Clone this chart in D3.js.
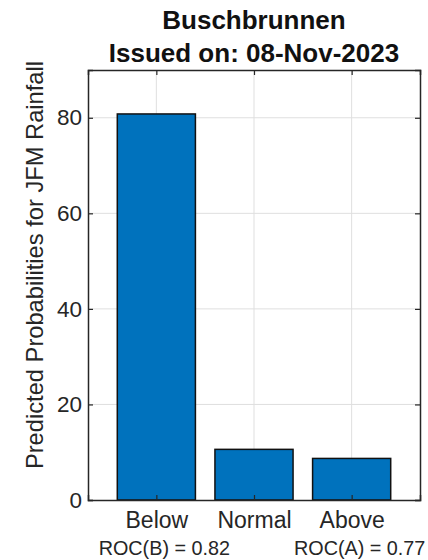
<!DOCTYPE html>
<html><head><meta charset="utf-8">
<script src="https://cdn.jsdelivr.net/npm/d3@7"></script>
<style>body{margin:0;background:#fff;} svg{display:block;font-family:Arial,"Liberation Sans",sans-serif;}</style>
</head><body>
<svg id="c" width="428" height="560"></svg>
<script>
const categories = ["Below", "Normal", "Above"];
const probabilities = [80.8, 10.6, 8.7];
const yTicks = [0, 20, 40, 60, 80];
const titleLines = ["Buschbrunnen", "Issued on: 08-Nov-2023"];
const yLabel = "Predicted Probabilities for JFM Rainfall";
const rocLabels = [{text: "ROC(B) = 0.82", pos: 1}, {text: "ROC(A) = 0.77", pos: 3}];

const svg = d3.select("#c");
const L = 88, R = 420, T = 70, B = 500;
const x = d3.scaleLinear().domain([0.3, 3.7]).range([L, R]);
const y = d3.scaleLinear().domain([0, 90]).range([B, T]);
const ink = "#262626";
const FF = "Arial,'Liberation Sans',sans-serif";

// grid
svg.append("g").selectAll("line").data(yTicks.filter(d => d > 0)).join("line")
  .attr("x1", L).attr("x2", R).attr("y1", d => y(d)).attr("y2", d => y(d))
  .attr("stroke", "#dfdfdf").attr("stroke-width", 1);
svg.append("g").selectAll("line").data(categories.map((c, i) => i + 1)).join("line")
  .attr("x1", d => x(d)).attr("x2", d => x(d)).attr("y1", T).attr("y2", B)
  .attr("stroke", "#dfdfdf").attr("stroke-width", 1);

// bars
const bw = 0.8;
svg.append("g").selectAll("rect").data(probabilities).join("rect")
  .attr("x", (d, i) => x(i + 1 - bw / 2)).attr("width", x(bw) - x(0))
  .attr("y", d => y(d)).attr("height", d => y(0) - y(d))
  .attr("fill", "#0072BD").attr("stroke", "#111").attr("stroke-width", 1.5);

// axes
const yAx = svg.append("g").attr("transform", `translate(${L},0)`)
  .call(d3.axisLeft(y).tickValues(yTicks).tickSize(-5).tickPadding(6));
yAx.selectAll("text").attr("font-size", 22.5).attr("fill", ink).attr("font-family", FF);
const yAxR = svg.append("g").attr("transform", `translate(${R},0)`)
  .call(d3.axisRight(y).tickValues(yTicks).tickSize(-5).tickFormat(""));
const xAx = svg.append("g").attr("transform", `translate(0,${B})`)
  .call(d3.axisBottom(x).tickValues([1, 2, 3]).tickSize(-5).tickPadding(12).tickFormat((d) => categories[d - 1]));
xAx.selectAll("text").attr("font-size", 23).attr("fill", ink).attr("font-family", FF);
const xAxT = svg.append("g").attr("transform", `translate(0,${T})`)
  .call(d3.axisTop(x).tickValues([1, 2, 3]).tickSize(-5).tickFormat(""));
[yAx, yAxR, xAx, xAxT].forEach(g => {
  g.select(".domain").attr("stroke", ink).attr("stroke-width", 1.5);
  g.selectAll(".tick line").attr("stroke", ink).attr("stroke-width", 1.2);
});

// ROC labels
svg.append("g").selectAll("text").data(rocLabels).join("text")
  .attr("x", d => x(d.pos) + 8).attr("y", 555).attr("text-anchor", "middle")
  .attr("font-size", 19.8).attr("fill", ink).text(d => d.text);

// title
svg.append("g").selectAll("text").data(titleLines).join("text")
  .attr("x", 254).attr("y", (d, i) => 29 + i * 33).attr("text-anchor", "middle")
  .attr("font-size", 26).attr("font-weight", "bold").attr("fill", "#111").text(d => d);

// y label
svg.append("text").attr("transform", `translate(43,265) rotate(-90)`)
  .attr("text-anchor", "middle").attr("font-size", 23.7).attr("fill", ink).text(yLabel);
</script>
</body></html>
